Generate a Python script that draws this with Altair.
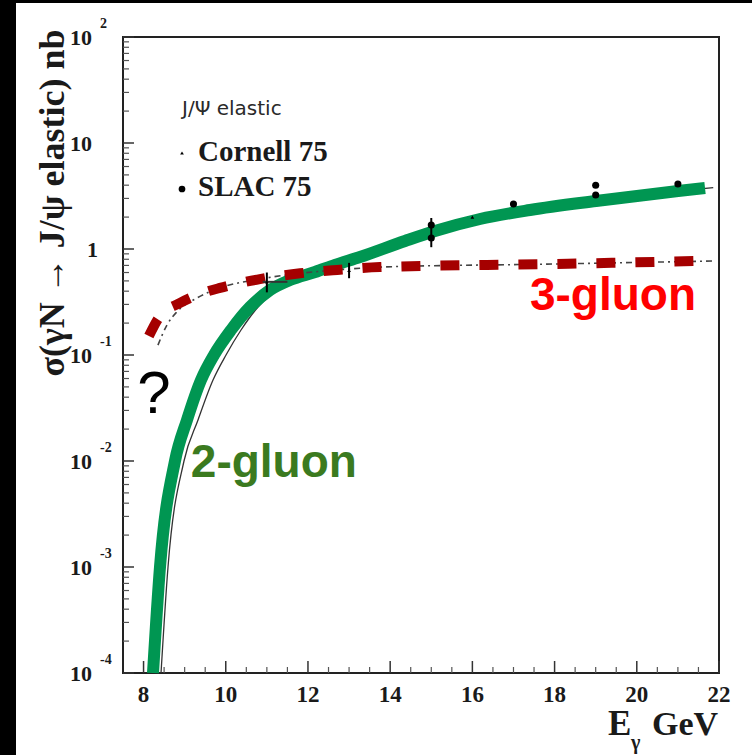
import altair as alt
import pandas as pd

# 2-gluon exchange prediction (thick green band)
E_TWO = [8.23, 8.40, 8.765, 9.057, 9.398, 9.714, 10.128, 10.59, 11.077, 11.563, 12.172,
         12.658, 13.266, 14.361, 15.091, 16.186, 17.403, 19.008, 21.004, 21.66]
S_TWO = [1e-4, 1e-3, 1e-2, 0.02436, 0.05808, 0.100, 0.1721, 0.2836, 0.4105, 0.5099, 0.6067,
         0.7065, 0.840, 1.190, 1.478, 1.919, 2.333, 2.837, 3.526, 3.763]

# thin fit curve running along the 2-gluon band
E_FIT2 = [8.425, 8.595, 8.984, 9.325, 9.69, 10.006, 10.371, 10.785, 11.247, 11.563, 12.172,
          12.658, 13.266, 14.361, 15.091, 16.186, 17.403, 19.008, 21.004, 21.86]
S_FIT2 = [1e-4, 1e-3, 1e-2, 0.02436, 0.05808, 0.100, 0.1721, 0.2836, 0.4105, 0.5099, 0.6067,
          0.7065, 0.840, 1.190, 1.478, 1.919, 2.333, 2.837, 3.526, 3.80]

# 3-gluon exchange prediction (red dashed)
E_THREE = [8.13, 8.40, 8.89, 9.37, 9.86, 10.83, 11.81, 12.71, 13.75, 17.82, 21.47]
S_THREE = [0.151, 0.233, 0.31, 0.376, 0.43, 0.52, 0.59, 0.634, 0.675, 0.72, 0.77]

# thin dash-dot curve under the 3-gluon band
E_FIT3 = [8.35, 8.57, 8.81, 9.30, 9.86, 10.83, 11.81, 12.71, 13.75, 17.82, 21.86]
S_FIT3 = [0.124, 0.192, 0.255, 0.345, 0.43, 0.52, 0.59, 0.634, 0.675, 0.72, 0.77]

# measurements
SLAC_E = [15, 15, 17, 19, 19, 21]
SLAC_S = [1.68, 1.27, 2.66, 4.0, 3.23, 4.1]
CORNELL_E = [11, 13, 16]
CORNELL_S = [0.49, 0.63, 2.0]
ERR_E = [11, 13, 15]
ERR_LO = [0.39, 0.53, 1.04]
ERR_HI = [0.60, 0.74, 1.96]
HERR_E0, HERR_E1, HERR_S = [10.9], [11.5], [0.49]

# axis labelling
X_LABELS = [8, 10, 12, 14, 16, 18, 20, 22]
X_LABEL_TEXT = ["8", "10", "12", "14", "16", "18", "20", "22"]
X_MINOR = [8.5, 9, 9.5, 10.5, 11, 11.5, 12.5, 13, 13.5, 14.5, 15, 15.5,
           16.5, 17, 17.5, 18.5, 19, 19.5, 20.5, 21, 21.5]
Y_DECADES = [1e-4, 1e-3, 1e-2, 1e-1, 1, 10, 100]
Y_TEN_VALS = [1e-4, 1e-3, 1e-2, 1e-1, 10, 100]
Y_TEN_EXP = ["-4", "-3", "-2", "-1", "", "2"]
Y_MINOR = [k * 10.0 ** d for d in range(-4, 2) for k in range(2, 10)]

W, H = 596, 636
SERIF = "Liberation Serif"
SANS = "Liberation Sans"
INK = "#1a1a1a"

xs = alt.Scale(domain=[7.5, 22], nice=False, zero=False)
ys = alt.Scale(type="log", domain=[1e-4, 100], nice=False)


def X(field="E"):
    return alt.X(f"{field}:Q", scale=xs, axis=None)


def Y(field="S"):
    return alt.Y(f"{field}:Q", scale=ys, axis=None)


one = pd.DataFrame({"k": [0]})

# page edges
edge_left = alt.Chart(one).mark_rect(color="black").encode(
    x=alt.value(-123), x2=alt.value(-107), y=alt.value(-37), y2=alt.value(H + 82))
edge_top = alt.Chart(one).mark_rect(color="black").encode(
    x=alt.value(-123), x2=alt.value(W + 33), y=alt.value(-37), y2=alt.value(-34))

# inward ticks
xt_major = alt.Chart(pd.DataFrame({"E": X_LABELS})).mark_rule(color="#333", strokeWidth=1.5).encode(
    x=X(), y=alt.value(H), y2=alt.value(H - 12))
xt_minor = alt.Chart(pd.DataFrame({"E": X_MINOR})).mark_rule(color="#555", strokeWidth=1.2).encode(
    x=X(), y=alt.value(H), y2=alt.value(H - 6))
yt_major = alt.Chart(pd.DataFrame({"S": Y_DECADES})).mark_rule(color="#333", strokeWidth=1.5).encode(
    y=Y(), x=alt.value(0), x2=alt.value(11))
yt_minor = alt.Chart(pd.DataFrame({"S": Y_MINOR})).mark_rule(color="#555", strokeWidth=1.2).encode(
    y=Y(), x=alt.value(0), x2=alt.value(6))

# x tick labels
xlab = alt.Chart(pd.DataFrame({"E": X_LABELS, "lab": X_LABEL_TEXT})).mark_text(
    align="center", baseline="alphabetic", font=SERIF, fontWeight="bold",
    fontSize=23, color=INK).encode(x=X(), y=alt.value(H + 29), text="lab:N")

# y tick labels: 10 with raised exponent
df_ten = pd.DataFrame({"S": Y_TEN_VALS, "exp": Y_TEN_EXP})
ylab_ten = alt.Chart(df_ten).mark_text(
    align="right", baseline="alphabetic", dy=8, font=SERIF, fontWeight="bold",
    fontSize=22, color=INK, text="10").encode(y=Y(), x=alt.value(-31))
ylab_exp = alt.Chart(df_ten).mark_text(
    align="left", baseline="alphabetic", dy=-9, font=SERIF, fontWeight="bold",
    fontSize=14, color=INK).encode(y=Y(), x=alt.value(-23), text="exp:N")
ylab_one = alt.Chart(pd.DataFrame({"S": [1]})).mark_text(
    align="right", baseline="alphabetic", dy=8, font=SERIF, fontWeight="bold",
    fontSize=22, color=INK, text="1").encode(y=Y(), x=alt.value(-25))

# curves
fit2 = alt.Chart(pd.DataFrame({"E": E_FIT2, "S": S_FIT2})).mark_line(
    color="#333", strokeWidth=1.3, interpolate="monotone").encode(x=X(), y=Y(), order="E:Q")
two = alt.Chart(pd.DataFrame({"E": E_TWO, "S": S_TWO})).mark_line(
    color="#009652", strokeWidth=12, strokeCap="butt", interpolate="monotone").encode(
    x=X(), y=Y(), order="E:Q")
fit3 = alt.Chart(pd.DataFrame({"E": E_FIT3, "S": S_FIT3})).mark_line(
    color="#444", strokeWidth=1.6, strokeDash=[6, 4, 2, 4], interpolate="monotone").encode(
    x=X(), y=Y(), order="E:Q")
three = alt.Chart(pd.DataFrame({"E": E_THREE, "S": S_THREE})).mark_line(
    color="#a50000", strokeWidth=10, strokeDash=[19, 20], strokeCap="butt",
    interpolate="monotone").encode(x=X(), y=Y(), order="E:Q")

# data points with error bars
errs = alt.Chart(pd.DataFrame({"E": ERR_E, "lo": ERR_LO, "hi": ERR_HI})).mark_rule(
    color="black", strokeWidth=2).encode(x=X(), y=Y("lo"), y2="hi:Q")
herr = alt.Chart(pd.DataFrame({"E": HERR_E0, "E2": HERR_E1, "S": HERR_S})).mark_rule(
    color="#333", strokeWidth=2).encode(x=X(), x2="E2:Q", y=Y())
slac = alt.Chart(pd.DataFrame({"E": SLAC_E, "S": SLAC_S})).mark_point(
    shape="circle", filled=True, size=50, color="black", opacity=1).encode(x=X(), y=Y())
cornell = alt.Chart(pd.DataFrame({"E": CORNELL_E, "S": CORNELL_S})).mark_point(
    shape="triangle-up", filled=True, size=14, color="black", opacity=1).encode(x=X(), y=Y())

# in-plot labels
lab3 = alt.Chart(pd.DataFrame({"E": [19.42], "S": [0.266]})).mark_text(
    text="3-gluon", font=SANS, fontWeight="bold", fontSize=46, color="#ff0000",
    align="center", baseline="alphabetic").encode(x=X(), y=Y())
lab2 = alt.Chart(pd.DataFrame({"E": [11.17], "S": [0.00706]})).mark_text(
    text="2-gluon", font=SANS, fontWeight="bold", fontSize=46, color="#3b7a1f",
    align="center", baseline="alphabetic").encode(x=X(), y=Y())
labq = alt.Chart(pd.DataFrame({"E": [8.25], "S": [0.0284]})).mark_text(
    text="?", font=SANS, fontSize=60, color="black",
    align="center", baseline="alphabetic").encode(x=X(), y=Y())

# key
key_head = alt.Chart(one).mark_text(
    text="J/Ψ elastic", font="DejaVu Sans", fontSize=20, color="#2a2a2a",
    align="left", baseline="alphabetic").encode(x=alt.value(59), y=alt.value(78))
key_c = alt.Chart(one).mark_text(
    text="Cornell 75", font=SERIF, fontWeight="bold", fontSize=29, color=INK,
    align="left", baseline="alphabetic").encode(x=alt.value(75), y=alt.value(124))
key_s = alt.Chart(one).mark_text(
    text="SLAC 75", font=SERIF, fontWeight="bold", fontSize=29, color=INK,
    align="left", baseline="alphabetic").encode(x=alt.value(75), y=alt.value(159))
key_cm = alt.Chart(one).mark_point(shape="triangle-up", filled=True, size=14,
                                   color="black", opacity=1).encode(
    x=alt.value(59), y=alt.value(116))
key_sm = alt.Chart(one).mark_point(shape="circle", filled=True, size=45,
                                   color="black", opacity=1).encode(
    x=alt.value(59), y=alt.value(152))

# axis titles
ytitle = alt.Chart(one).mark_text(
    text="σ(γN → J/ψ elastic) nb", font=SERIF, fontWeight="bold", fontSize=36,
    color=INK, angle=270, align="center", baseline="alphabetic").encode(
    x=alt.value(-59), y=alt.value(166))
xt_E = alt.Chart(one).mark_text(
    text="E", font=SERIF, fontWeight="bold", fontSize=35, color=INK,
    align="left", baseline="alphabetic").encode(x=alt.value(485), y=alt.value(698))
xt_g = alt.Chart(one).mark_text(
    text="γ", font=SERIF, fontWeight="bold", fontSize=20, color=INK,
    align="left", baseline="alphabetic").encode(x=alt.value(508), y=alt.value(712))
xt_G = alt.Chart(one).mark_text(
    text="GeV", font=SERIF, fontWeight="bold", fontSize=34, color=INK,
    align="left", baseline="alphabetic").encode(x=alt.value(529), y=alt.value(698))

chart = alt.layer(
    edge_left, edge_top,
    xt_minor, xt_major, yt_minor, yt_major,
    fit2, two, fit3, three,
    errs, herr, slac, cornell,
    lab3, lab2, labq,
    key_head, key_c, key_s, key_cm, key_sm,
    xlab, ylab_ten, ylab_exp, ylab_one,
    ytitle, xt_E, xt_g, xt_G,
).properties(
    width=W, height=H,
    autosize=alt.AutoSizeParams(type="none"),
    padding={"left": 123, "top": 37, "right": 33, "bottom": 82},
    background="white",
).configure_view(stroke="#222", strokeWidth=2)

chart.save("out.html", embed_options={"renderer": "svg", "actions": False})
